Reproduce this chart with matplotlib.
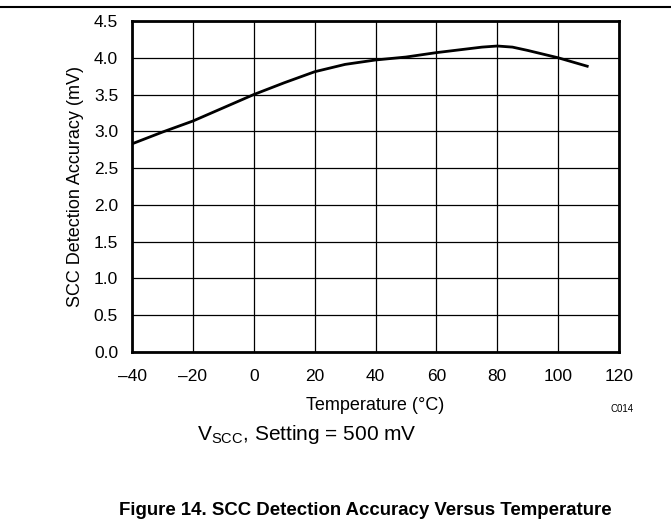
import matplotlib
matplotlib.use('Agg')
import matplotlib.pyplot as plt
from matplotlib.ticker import FuncFormatter

plt.rcParams['font.family'] = ['Liberation Sans', 'DejaVu Sans']
plt.rcParams['mathtext.fontset'] = 'custom'
plt.rcParams['mathtext.rm'] = 'Liberation Sans'
plt.rcParams['mathtext.it'] = 'Liberation Sans:italic'

# data
temp = [-40, -30, -20, -10, 0, 10, 20, 30, 40, 50, 60, 70, 75, 80, 85, 90, 100, 110]
accuracy = [2.83, 2.99, 3.14, 3.32, 3.50, 3.66, 3.81, 3.91, 3.97, 4.01, 4.07, 4.12,
            4.145, 4.16, 4.145, 4.10, 4.00, 3.88]
x_ticks = [-40, -20, 0, 20, 40, 60, 80, 100, 120]
y_ticks = [0.0, 0.5, 1.0, 1.5, 2.0, 2.5, 3.0, 3.5, 4.0, 4.5]

W, H = 671, 527
fig = plt.figure(figsize=(W / 100, H / 100), dpi=100)
ax = fig.add_axes([132 / W, 1 - 352 / H, (619 - 132) / W, (352 - 21) / H])

ax.plot(temp, accuracy, color='black', lw=2, solid_capstyle='butt')
ax.set_xlim(-40, 120)
ax.set_ylim(0, 4.5)
ax.set_xticks(x_ticks)
ax.set_yticks(y_ticks)
ax.xaxis.set_major_formatter(FuncFormatter(lambda v, p: ('%d' % v).replace('-', '\u2013')))
ax.yaxis.set_major_formatter(FuncFormatter(lambda v, p: '%.1f' % v))
ax.grid(True, color='black', lw=0.9)
ax.tick_params(length=0, labelsize=12.5)
ax.tick_params(axis='x', pad=12)
ax.tick_params(axis='y', pad=10)
for s in ax.spines.values():
    s.set_linewidth(2)

ax.set_xlabel('Temperature (°C)', fontsize=13)
ax.xaxis.label.set_va('baseline')
ax.xaxis.set_label_coords(0.5, (352 - 410) / 331)
ax.set_ylabel('SCC Detection Accuracy (mV)', fontsize=13)
ax.yaxis.label.set_va('center')
ax.yaxis.set_label_coords((75 - 132) / 487, 0.5)

fig.text(622 / W, 1 - 409 / H, 'C014', fontsize=7, ha='center', va='center')
fig.text(197 / W, 1 - 440 / H, r'V$_{\mathrm{SCC}}$, Setting = 500 mV', fontsize=15,
         ha='left', va='baseline')
fig.text(365 / W, 1 - 515 / H, 'Figure 14. SCC Detection Accuracy Versus Temperature',
         fontsize=13.4, fontweight='bold', ha='center', va='baseline')
fig.add_artist(plt.Line2D([0, 1], [1 - 7 / H, 1 - 7 / H], color='black', lw=1.5))

fig.savefig('out.png', dpi=100)
